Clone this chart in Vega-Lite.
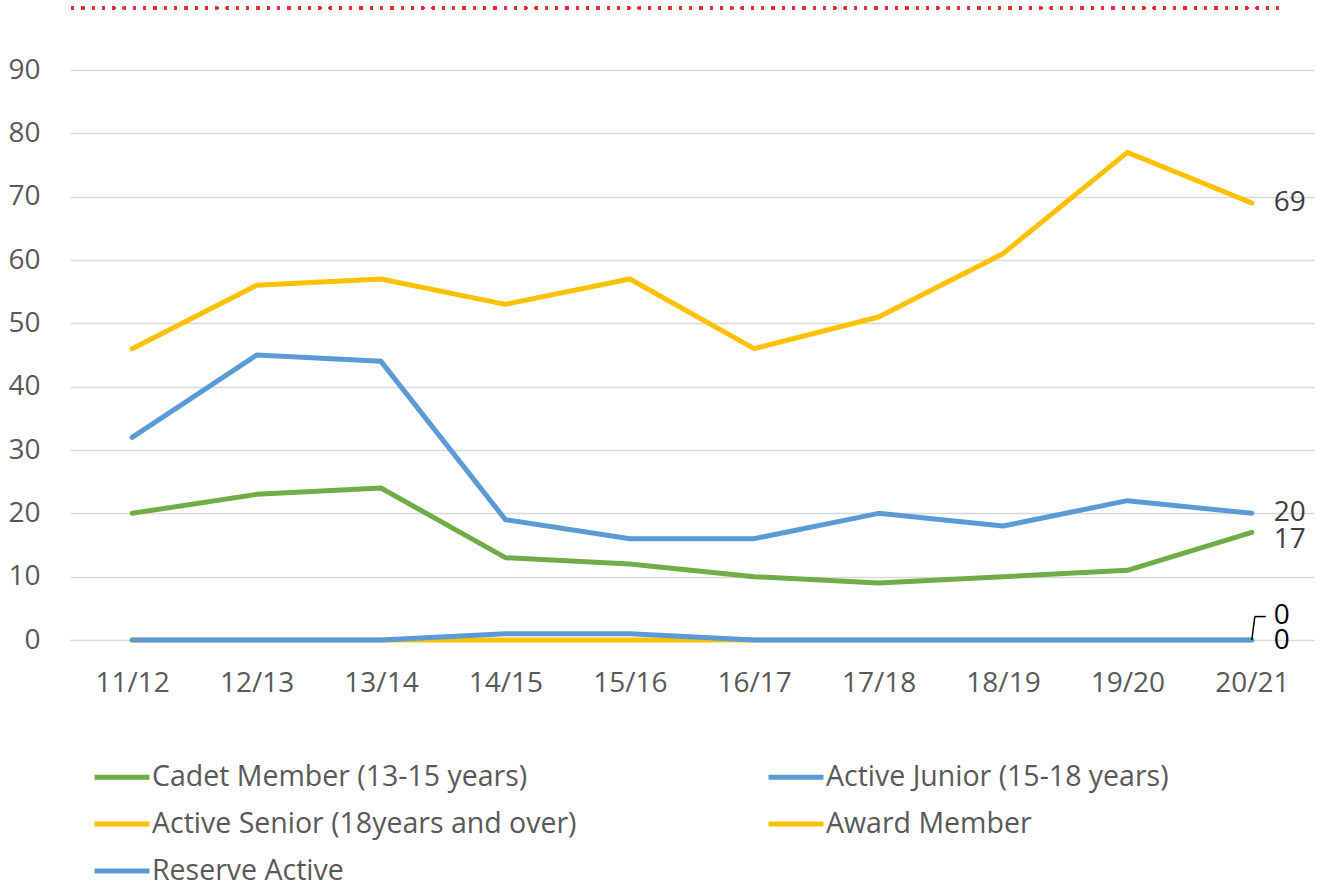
{
  "$schema": "https://vega.github.io/schema/vega-lite/v6.json",
  "autosize": "none",
  "width": 1244,
  "height": 570,
  "padding": {"left": 70, "top": 70, "right": 29, "bottom": 243},
  "background": "white",
  "config": {
    "font": "Open Sans",
    "view": {"stroke": null}
  },
  "data": {
    "values": [
      {"series": "Cadet Member (13-15 years)", "year": "11/12", "value": 20},
      {"series": "Cadet Member (13-15 years)", "year": "12/13", "value": 23},
      {"series": "Cadet Member (13-15 years)", "year": "13/14", "value": 24},
      {"series": "Cadet Member (13-15 years)", "year": "14/15", "value": 13},
      {"series": "Cadet Member (13-15 years)", "year": "15/16", "value": 12},
      {"series": "Cadet Member (13-15 years)", "year": "16/17", "value": 10},
      {"series": "Cadet Member (13-15 years)", "year": "17/18", "value": 9},
      {"series": "Cadet Member (13-15 years)", "year": "18/19", "value": 10},
      {"series": "Cadet Member (13-15 years)", "year": "19/20", "value": 11},
      {"series": "Cadet Member (13-15 years)", "year": "20/21", "value": 17},
      {"series": "Active Junior (15-18 years)", "year": "11/12", "value": 32},
      {"series": "Active Junior (15-18 years)", "year": "12/13", "value": 45},
      {"series": "Active Junior (15-18 years)", "year": "13/14", "value": 44},
      {"series": "Active Junior (15-18 years)", "year": "14/15", "value": 19},
      {"series": "Active Junior (15-18 years)", "year": "15/16", "value": 16},
      {"series": "Active Junior (15-18 years)", "year": "16/17", "value": 16},
      {"series": "Active Junior (15-18 years)", "year": "17/18", "value": 20},
      {"series": "Active Junior (15-18 years)", "year": "18/19", "value": 18},
      {"series": "Active Junior (15-18 years)", "year": "19/20", "value": 22},
      {"series": "Active Junior (15-18 years)", "year": "20/21", "value": 20},
      {"series": "Active Senior (18years and over)", "year": "11/12", "value": 46},
      {"series": "Active Senior (18years and over)", "year": "12/13", "value": 56},
      {"series": "Active Senior (18years and over)", "year": "13/14", "value": 57},
      {"series": "Active Senior (18years and over)", "year": "14/15", "value": 53},
      {"series": "Active Senior (18years and over)", "year": "15/16", "value": 57},
      {"series": "Active Senior (18years and over)", "year": "16/17", "value": 46},
      {"series": "Active Senior (18years and over)", "year": "17/18", "value": 51},
      {"series": "Active Senior (18years and over)", "year": "18/19", "value": 61},
      {"series": "Active Senior (18years and over)", "year": "19/20", "value": 77},
      {"series": "Active Senior (18years and over)", "year": "20/21", "value": 69},
      {"series": "Award Member", "year": "11/12", "value": 0},
      {"series": "Award Member", "year": "12/13", "value": 0},
      {"series": "Award Member", "year": "13/14", "value": 0},
      {"series": "Award Member", "year": "14/15", "value": 0},
      {"series": "Award Member", "year": "15/16", "value": 0},
      {"series": "Award Member", "year": "16/17", "value": 0},
      {"series": "Award Member", "year": "17/18", "value": 0},
      {"series": "Award Member", "year": "18/19", "value": 0},
      {"series": "Award Member", "year": "19/20", "value": 0},
      {"series": "Award Member", "year": "20/21", "value": 0},
      {"series": "Reserve Active", "year": "11/12", "value": 0},
      {"series": "Reserve Active", "year": "12/13", "value": 0},
      {"series": "Reserve Active", "year": "13/14", "value": 0},
      {"series": "Reserve Active", "year": "14/15", "value": 1},
      {"series": "Reserve Active", "year": "15/16", "value": 1},
      {"series": "Reserve Active", "year": "16/17", "value": 0},
      {"series": "Reserve Active", "year": "17/18", "value": 0},
      {"series": "Reserve Active", "year": "18/19", "value": 0},
      {"series": "Reserve Active", "year": "19/20", "value": 0},
      {"series": "Reserve Active", "year": "20/21", "value": 0}
    ]
  },
  "encoding": {
    "x": {
      "field": "year", "type": "ordinal",
      "scale": {"type": "point", "padding": 0.5},
      "axis": {"title": null, "domain": false, "ticks": false, "labelAngle": 0, "labelFontSize": 28, "labelColor": "#595959", "labelPadding": 29, "labelFont": "Open Sans"}
    },
    "y": {
      "field": "value", "type": "quantitative",
      "scale": {"domain": [0, 90], "nice": false, "zero": true},
      "axis": {"title": null, "values": [0,10,20,30,40,50,60,70,80,90], "domain": false, "ticks": false, "grid": true, "gridColor": "#d9d9d9", "gridWidth": 1.5, "labelFontSize": 28, "labelColor": "#595959", "labelPadding": 30, "labelFont": "Open Sans"}
    }
  },
  "layer": [
    {
      "mark": {"type": "rule", "color": "#e5312f", "strokeWidth": 2.5, "strokeDash": [2.5, 7.8], "xOffset": -35, "x2Offset": -50},
      "encoding": {"y": {"datum": 99.8}, "x": null}
    },
    {
      "mark": {"type": "line", "strokeCap": "round", "strokeJoin": "round"},
      "encoding": {
        "color": {
          "field": "series", "type": "nominal",
          "scale": {
            "domain": ["Cadet Member (13-15 years)", "Active Junior (15-18 years)", "Active Senior (18years and over)", "Award Member", "Reserve Active"],
            "range": ["#70ad47", "#5b9bd5", "#ffc000", "#ffc000", "#5b9bd5"]
          },
          "legend": {
            "title": null, "orient": "none", "legendX": 22, "legendY": 677, "direction": "horizontal", "columns": 2,
            "symbolType": "stroke", "symbolSize": 3025, "labelFontSize": 28.5, "labelColor": "#595959", "labelOffset": 0,
            "columnPadding": 181, "rowPadding": 2, "labelFont": "Open Sans", "labelLimit": 600
          }
        },
        "strokeWidth": {
          "field": "series", "type": "nominal",
          "scale": {
            "domain": ["Cadet Member (13-15 years)", "Active Junior (15-18 years)", "Active Senior (18years and over)", "Award Member", "Reserve Active"],
            "range": [5, 5, 5, 3.5, 3.5]
          },
          "legend": {
            "title": null, "orient": "none", "legendX": 22, "legendY": 677, "direction": "horizontal", "columns": 2,
            "symbolType": "stroke", "symbolSize": 3025, "labelFontSize": 28.5, "labelColor": "#595959", "labelOffset": 0,
            "columnPadding": 181, "rowPadding": 2, "labelFont": "Open Sans", "labelLimit": 600
          }
        }
      }
    },
    {
      "transform": [{"filter": "datum.year == '20/21' && (datum.series == 'Active Senior (18years and over)' || datum.series == 'Active Junior (15-18 years)')"}],
      "mark": {"type": "text", "align": "left", "baseline": "middle", "dx": 22, "fontSize": 28, "color": "#404040", "font": "Open Sans"},
      "encoding": {"text": {"field": "value", "type": "quantitative"}}
    },
    {
      "transform": [{"filter": "datum.year == '20/21' && datum.series == 'Cadet Member (13-15 years)'"}],
      "mark": {"type": "text", "align": "left", "baseline": "middle", "dx": 22, "dy": 8, "fontSize": 28, "color": "#404040", "font": "Open Sans"},
      "encoding": {"text": {"field": "value", "type": "quantitative"}}
    },
    {
      "transform": [{"filter": "datum.year == '20/21' && datum.series == 'Reserve Active'"}],
      "mark": {"type": "text", "align": "left", "baseline": "middle", "dx": 22, "dy": 1, "fontSize": 28, "color": "#000000", "font": "Open Sans"},
      "encoding": {"text": {"field": "value", "type": "quantitative"}}
    },
    {
      "transform": [{"filter": "datum.year == '20/21' && datum.series == 'Award Member'"}],
      "mark": {"type": "text", "align": "left", "baseline": "middle", "dx": 22, "dy": -24, "fontSize": 28, "color": "#000000", "font": "Open Sans"},
      "encoding": {"text": {"field": "value", "type": "quantitative"}}
    },
    {
      "transform": [{"filter": "datum.year == '20/21' && datum.series == 'Award Member'"}],
      "mark": {"type": "rule", "color": "#000000", "strokeWidth": 1.5, "x2Offset": 3},
      "encoding": {"x2": {"field": "year"}, "y": {"datum": 0}, "y2": {"datum": 3.7}}
    },
    {
      "transform": [{"filter": "datum.year == '20/21' && datum.series == 'Award Member'"}],
      "mark": {"type": "rule", "color": "#000000", "strokeWidth": 1.5, "xOffset": 3, "x2Offset": 14},
      "encoding": {"x2": {"field": "year"}, "y": {"datum": 3.7}}
    }
  ]
}
